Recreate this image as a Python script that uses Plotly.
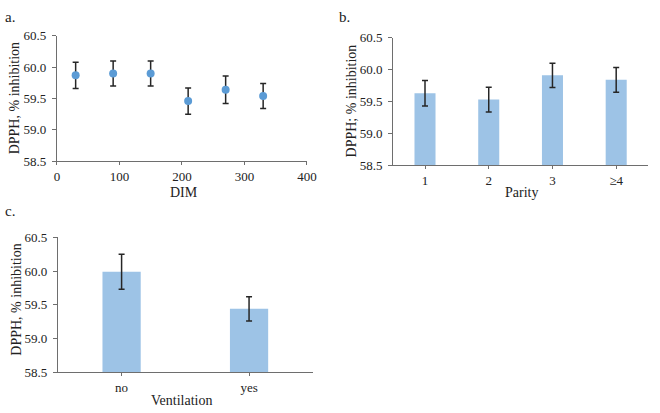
import plotly.graph_objects as go

# Panel a: DIM
dim_x = [30, 90, 150, 210, 270, 330]
dim_y = [59.87, 59.90, 59.90, 59.46, 59.64, 59.54]
dim_err = [0.21, 0.20, 0.20, 0.21, 0.22, 0.20]

# Panel b: Parity
parity_cat = ["1", "2", "3", "≥4"]
parity_y = [59.63, 59.53, 59.91, 59.84]
parity_err = [0.20, 0.195, 0.19, 0.195]

# Panel c: Ventilation
vent_cat = ["no", "yes"]
vent_y = [59.99, 59.44]
vent_err = [0.26, 0.18]

y_ticks = [58.5, 59.0, 59.5, 60.0, 60.5]

FONT = "Liberation Serif, Times New Roman, serif"
FS = 14
TFS = 13
AX = "#6e6e6e"
BAR = "#9DC3E6"
PT = "#5B9BD5"
ERR = "#262626"

fig = go.Figure()

fig.add_trace(go.Scatter(
    x=dim_x, y=dim_y, mode="markers",
    marker=dict(color=PT, size=8),
    error_y=dict(type="data", array=dim_err, color=ERR, thickness=1.5, width=3),
    xaxis="x", yaxis="y", showlegend=False))

fig.add_trace(go.Bar(
    x=parity_cat, y=[v - 58.5 for v in parity_y], base=58.5, width=0.33,
    marker=dict(color=BAR, line=dict(width=0)),
    error_y=dict(type="data", array=parity_err, color=ERR, thickness=1.5, width=3),
    xaxis="x2", yaxis="y2", showlegend=False))

fig.add_trace(go.Bar(
    x=vent_cat, y=[v - 58.5 for v in vent_y], base=58.5, width=0.3,
    marker=dict(color=BAR, line=dict(width=0)),
    error_y=dict(type="data", array=vent_err, color=ERR, thickness=1.5, width=3),
    xaxis="x3", yaxis="y3", showlegend=False))

yax = dict(range=[58.5, 60.5], tickvals=y_ticks, tickformat=".1f",
           showgrid=False, zeroline=False, showline=True, linecolor=AX, linewidth=1,
           ticks="outside", ticklen=4, tickcolor=AX, ticklabelstandoff=3,
           tickfont=dict(family=FONT, size=TFS, color="#222"))
xax = dict(showgrid=False, zeroline=False, showline=True, linecolor=AX, linewidth=1,
           ticks="outside", ticklen=3, tickcolor=AX,
           tickfont=dict(family=FONT, size=TFS, color="#222"))

fig.update_layout(
    width=660, height=413,
    margin=dict(l=0, r=0, t=0, b=0),
    paper_bgcolor="white", plot_bgcolor="white",
    font=dict(family=FONT, size=FS, color="#222"),
    xaxis=dict(xax, domain=[0.0833, 0.4697], range=[0, 400], tickvals=[0, 100, 200, 300, 400], anchor="y"),
    yaxis=dict(yax, domain=[0.6126, 0.9274], anchor="x"),
    xaxis2=dict(xax, domain=[0.603, 0.997], type="category", range=[-0.5, 3.5], anchor="y2"),
    yaxis2=dict(yax, domain=[0.6029, 0.9225], anchor="x2"),
    xaxis3=dict(xax, domain=[0.0848, 0.4788], type="category", range=[-0.5, 1.5], anchor="y3"),
    yaxis3=dict(yax, domain=[0.0823, 0.4213], anchor="x3"),
)

def ann(text, x, y, angle=0, size=FS, xanchor="center", yanchor="middle"):
    fig.add_annotation(text=text, x=x / 660, y=1 - y / 413, xref="paper", yref="paper",
                       showarrow=False, textangle=angle, xanchor=xanchor, yanchor=yanchor,
                       font=dict(family=FONT, size=size, color="#222"))

ann("a.", 0, 10, xanchor="left", size=15)
ann("b.", 341, 10, xanchor="left", size=15)
ann("c.", 0, 212, xanchor="left", size=15)

ann("DPPH, % inhibition", 12, 95, angle=-90)
ann("DPPH; % inhibition", 355, 98, angle=-90)
ann("DPPH, % inhibition", 14, 304, angle=-90)

ann("DIM", 185, 192)
ann("Parity", 529, 193)
ann("Ventilation", 182, 408)

fig.write_html("out.html")
